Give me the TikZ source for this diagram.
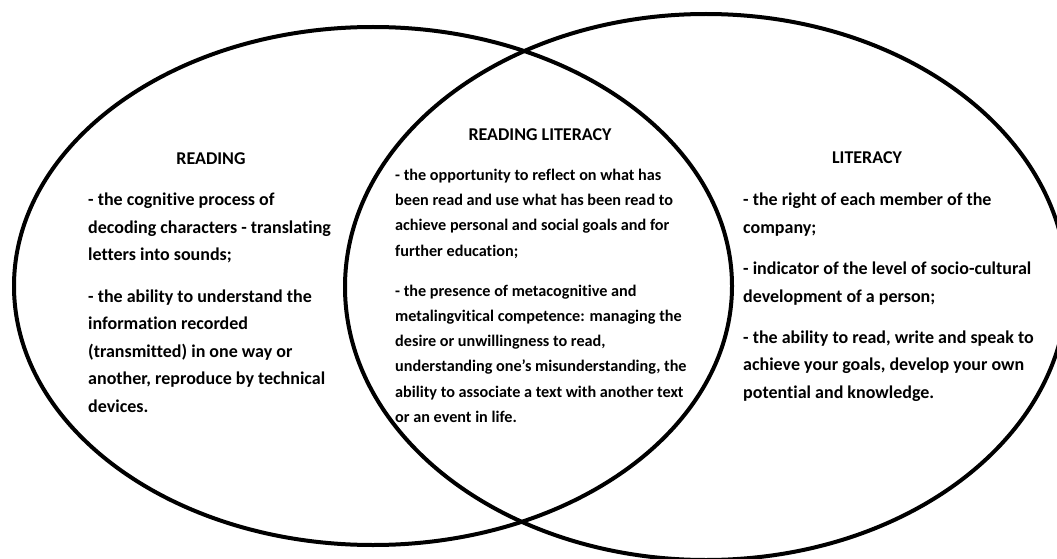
\documentclass[tikz,border=0pt]{standalone}
\usepackage{fontspec}
\setmainfont{Carlito}[Ligatures={NoCommon}]
\begin{document}
\begin{tikzpicture}[x=1pt,y=-1pt,
  ring/.style={draw=black,line width=4pt},
  title/.style={font=\bfseries\fontsize{18}{20}\selectfont,inner sep=0pt},
  body/.style={font=\bfseries\fontsize{18}{27.4}\selectfont,align=left,inner sep=0pt,anchor=north west},
  midbody/.style={font=\bfseries\fontsize{16.2}{25.2}\selectfont,align=left,inner sep=0pt,anchor=north west}]
\useasboundingbox (0,0) rectangle (1057,559);
\fill[white] (0,0) rectangle (1057,559);
\begin{scope}
\clip (0,0) rectangle (1057,559);
\draw[ring] (373,286) ellipse [x radius=359, y radius=259];
\draw[ring] (706,287) ellipse [x radius=361, y radius=273];
\end{scope}
\node[title] (readT) at (211,159) {READING};
\node[title] (midT) at (540,135) {READING LITERACY};
\node[title] (litT) at (867,158) {LITERACY};
\node[body] (readB) at (88,193) {- the cognitive process of\\
decoding characters - translating\\
letters into sounds;\\[14.5pt]
- the ability to understand the\\
information recorded\\
(transmitted) in one way or\\
another, reproduce by technical\\
devices.};
\node[midbody] (midB) at (395,169) {- the opportunity to reflect on what has\\
been read and use what has been read to\\
achieve personal and social goals and for\\
further education;\\[15pt]
- the presence of metacognitive and\\
metalingvitical competence: managing the\\
desire or unwillingness to read,\\
understanding one’s misunderstanding, the\\
ability to associate a text with another text\\
or an event in life.};
\node[body] (litB) at (743,193) {- the right of each member of the\\
company;\\[14pt]
- indicator of the level of socio-cultural\\
development of a person;\\[14pt]
- the ability to read, write and speak to\\
achieve your goals, develop your own\\
potential and knowledge.};
\end{tikzpicture}
\end{document}
